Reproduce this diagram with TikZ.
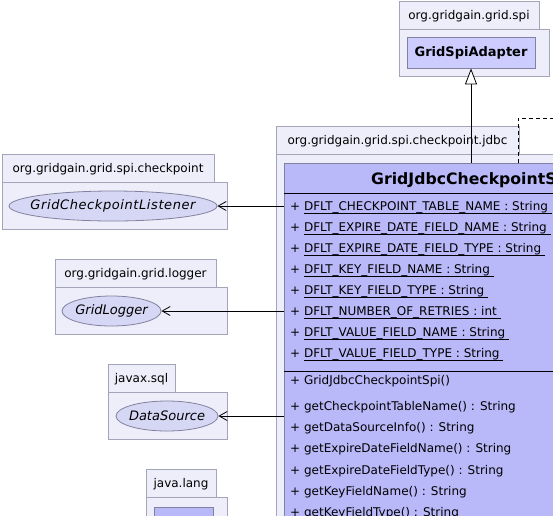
\documentclass[tikz,border=0pt]{standalone}
\usepackage{fontspec}
\setmainfont{DejaVu Sans}[ItalicFont={DejaVu Sans Oblique},BoldFont={DejaVu Sans Bold},BoldItalicFont={DejaVu Sans Bold Oblique}]
\usetikzlibrary{arrows.meta,shapes.geometric}
\definecolor{pkgfill}{RGB}{238,238,250}
\definecolor{pkgline}{RGB}{165,165,185}
\definecolor{clsfill}{RGB}{185,185,250}
\definecolor{adfill}{RGB}{204,204,255}
\definecolor{elfill}{RGB}{214,214,245}
\definecolor{clsline}{RGB}{130,130,160}
\newcommand\ulx[1]{\setbox0\hbox{#1}\rlap{\rule[-3.6pt]{\wd0}{1pt}}\box0}
\newcommand\zw[1]{\makebox[0pt]{#1}}
\tikzset{
  pkg/.style={draw=pkgline, fill=pkgfill, line width=0.8pt},
  pkglabel/.style={anchor=base, inner sep=0pt, font=\fontsize{12}{14}\selectfont},
  iface/.style={ellipse, draw=clsline, fill=elfill, line width=0.8pt, inner sep=0pt, minimum height=30pt, font=\fontsize{13}{15}\selectfont\itshape},
  cls/.style={rectangle, draw=clsline, fill=clsfill, line width=0.8pt, inner sep=0pt},
  member/.style={anchor=base west, inner sep=0pt, font=\fontsize{12}{14}\selectfont},
  dep/.style={-{Straight Barb[length=8pt,width=9pt]}, line width=0.8pt},
  inh/.style={-{Triangle[length=16pt,width=12pt,fill=white]}, line width=0.8pt},
  real/.style={dash pattern=on 4pt off 3pt, line width=0.8pt},
  sep/.style={line width=0.9pt}
}
\begin{document}
\begin{tikzpicture}[x=1pt,y=-1pt]
\useasboundingbox (0,0) rectangle (553,515);
\clip (0,0) rectangle (553,515);
% package org.gridgain.grid.spi
\draw[pkg] (399,29) rectangle (549,76);
\draw[pkg] (399,1) rectangle (539,29);
\node[pkglabel] (pspi) at (469,19) {org.gridgain.grid.spi};
\node[cls, fill=adfill, minimum width=128pt, minimum height=31pt, font=\bfseries\fontsize{13}{15}\selectfont] (adapter) at (471,52.5) {GridSpiAdapter};
% package jdbc
\draw[pkg] (276,154) rectangle (640,640);
\draw[pkg] (276,126) rectangle (519,154);
\node[pkglabel] (pjdbc) at (397.5,144) {org.gridgain.grid.spi.checkpoint.jdbc};
\node[cls, anchor=north west, minimum width=400pt, minimum height=500pt] (spi) at (284,163) {};
\draw[sep] (284,193) -- (684,193);
\draw[sep] (284,371) -- (684,371);
\node[anchor=base west, inner sep=0pt, font=\bfseries\fontsize{15.7}{18}\selectfont] (title) at (371,184) {GridJdbcCheckpointSpi};
\node[member] (a1) at (290,210) {+ \ulx{DFLT\_CHECKPOINT\_TABLE\_NAME : String }};
\node[member] (a2) at (290,231.1) {+ \ulx{DFLT\_EXPIRE\_DATE\_FIELD\_NAME : String }};
\node[member] (a3) at (290,252.2) {+ \ulx{DFLT\_EXPIRE\_DATE\_FIELD\_TYPE : String }};
\node[member] (a4) at (290,273.3) {+ \ulx{DFLT\_KEY\_FIELD\_NAME : String }};
\node[member] (a5) at (290,294.4) {+ \ulx{DFLT\_KEY\_FIELD\_TYPE : String }};
\node[member] (a6) at (290,315.5) {+ \ulx{DFLT\_NUMBER\_OF\_RETRIES : int }};
\node[member] (a7) at (290,336.6) {+ \ulx{DFLT\_VALUE\_FIELD\_NAME : String }};
\node[member] (a8) at (290,357.7) {+ \ulx{DFLT\_VALUE\_FIELD\_TYPE : String }};
\node[member] (c1) at (290,384) {+ GridJdbcCheckpointSpi()};
\node[member] (m1) at (290,410.7) {+ getCheckpointTableName() : String};
\node[member] (m2) at (290,431.8) {+ getDataSourceInfo() : String};
\node[member] (m3) at (290,452.9) {+ getExpireDateFieldName() : String};
\node[member] (m4) at (290,474) {+ getExpireDateFieldType() : String};
\node[member] (m5) at (290,495.1) {+ getKeyFieldName() : String};
\node[member] (m6) at (290,516.2) {+ getKeyFieldType() : String};
% package checkpoint
\draw[pkg] (2,182) rectangle (227,229);
\draw[pkg] (2,154) rectangle (214,182);
\node[pkglabel] (pcp) at (108,172) {org.gridgain.grid.spi.checkpoint};
\node[iface, minimum width=208pt, font=\fontsize{13}{15}\selectfont\itshape\addfontfeature{LetterSpace=4.5}] (lst) at (113,206) {\zw{GridCheckpointListener}};
% package logger
\draw[pkg] (55,287) rectangle (227,334);
\draw[pkg] (55,259) rectangle (216,287);
\node[pkglabel] (plog) at (135.5,277) {org.gridgain.grid.logger};
\node[iface, minimum width=99pt] (log) at (111.5,311) {\zw{GridLogger}};
% package javax.sql
\draw[pkg] (108,392) rectangle (227,439);
\draw[pkg] (108,364) rectangle (175,392);
\node[pkglabel] (psql) at (141.5,382) {javax.sql};
\node[iface, minimum width=102pt] (ds) at (167,416) {\zw{DataSource}};
% package java.lang
\draw[pkg] (146,497) rectangle (227,560);
\draw[pkg] (146,469) rectangle (216,497);
\node[pkglabel] (plang) at (181,487) {java.lang};
\node[cls, anchor=north west, minimum width=59pt, minimum height=50pt] (obj) at (154,507) {};
% connectors
\draw[inh] (adapter.south |- spi.north) -- (adapter.south);
\coordinate (rz) at (518,118);
\coordinate (gcs) at (600,118);
\draw[real] (rz |- spi.north) -- (rz) -- (gcs);
\draw[dep] (spi.west |- lst.east) -- (lst.east);
\draw[dep] (spi.west |- log.east) -- (log.east);
\draw[dep] (spi.west |- ds.east) -- (ds.east);
\end{tikzpicture}
\end{document}
